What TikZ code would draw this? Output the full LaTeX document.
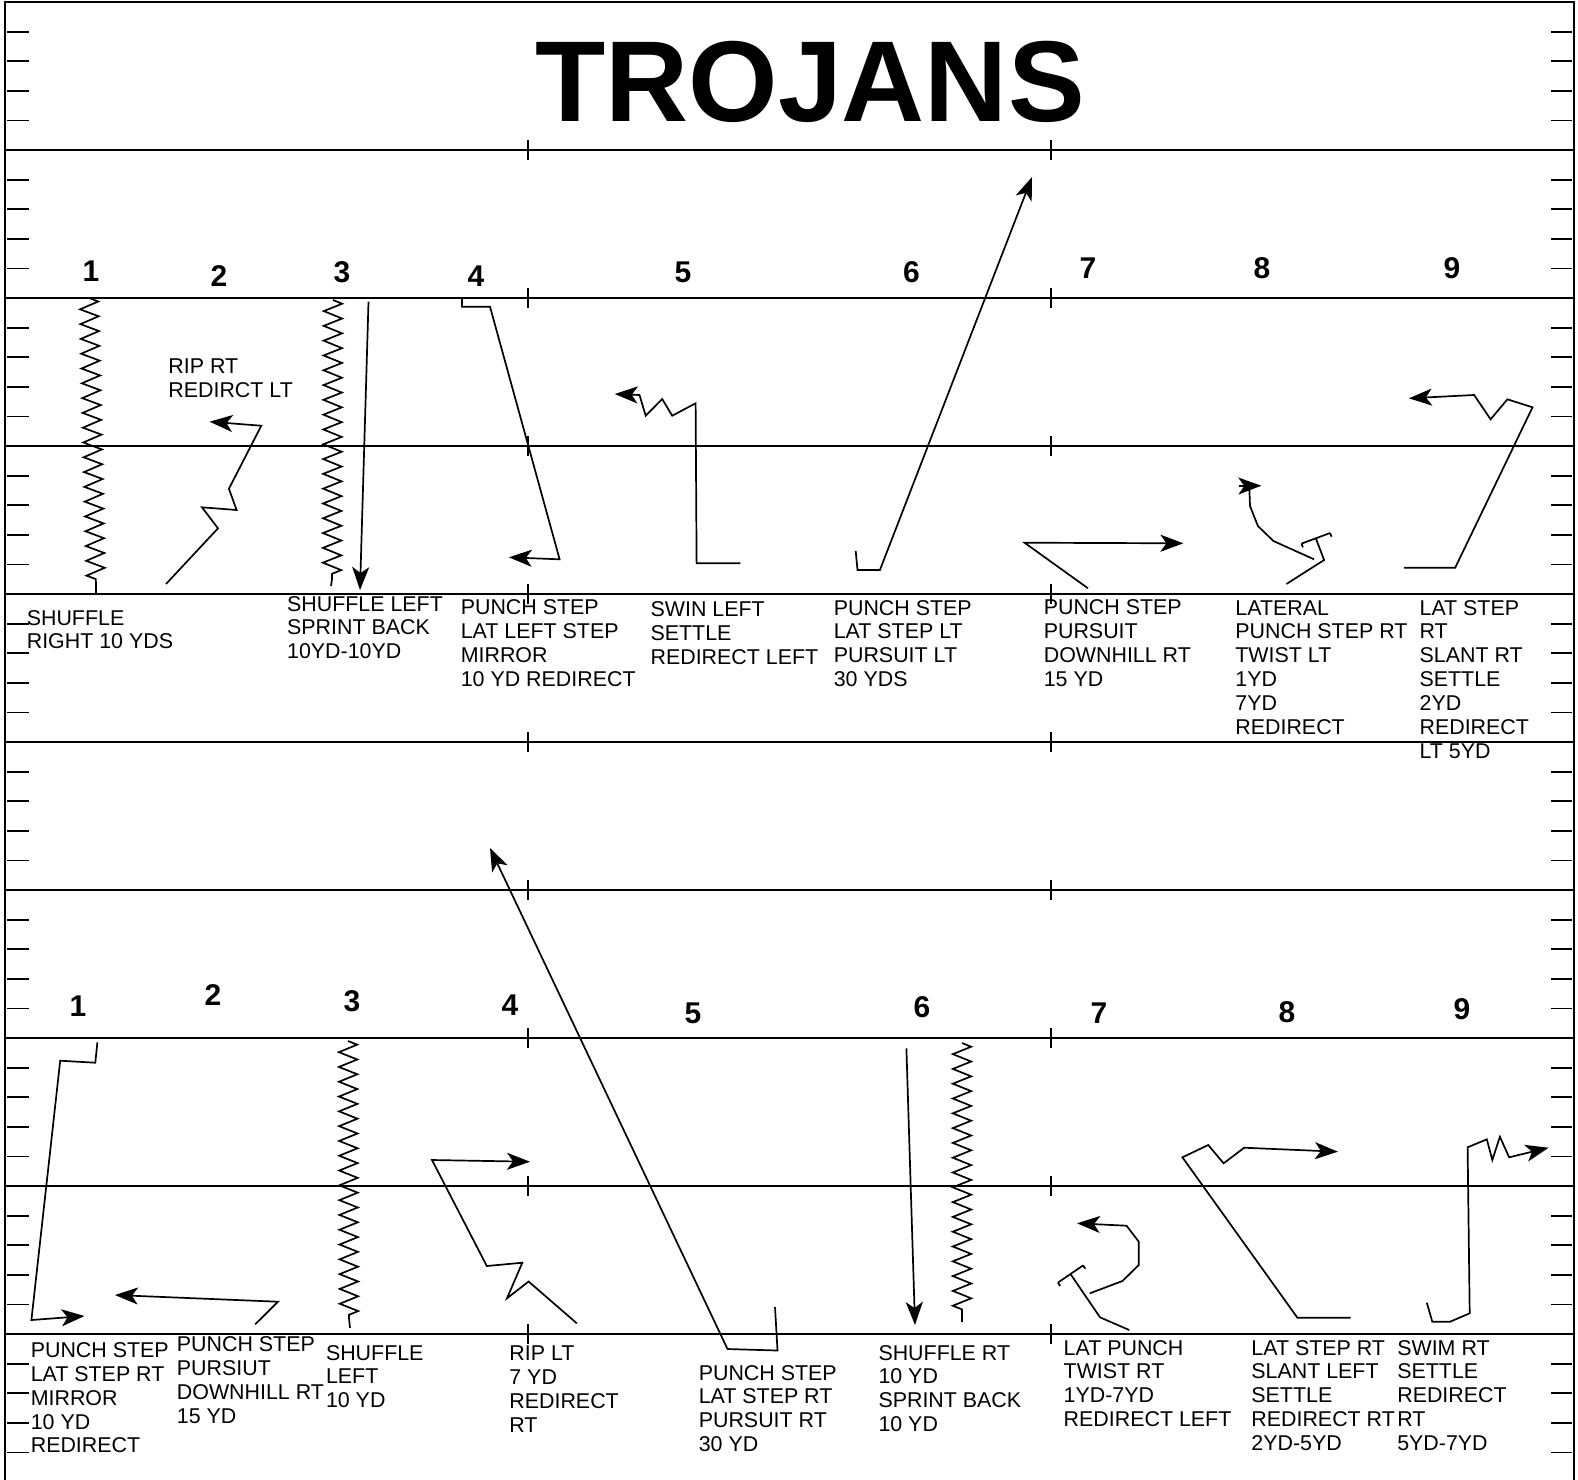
\documentclass[tikz,border=0pt]{standalone}
\usepackage{fontspec}
\setmainfont{Liberation Sans}
\usetikzlibrary{arrows.meta,decorations.pathmorphing}
\newcommand\stk[1]{\vtop{\halign{##\hfil\cr#1\crcr}}}
\tikzset{
  field/.style={line width=1pt},
  tickmark/.style={line width=0.9pt},
  route/.style={line width=0.85pt, line join=miter},
  arr/.style={route, -{Stealth[length=11.5pt,width=8.5pt,inset=3pt]}},
  zz/.style={route, decorate, decoration={zigzag, segment length=7.4pt, amplitude=4.6pt}},
  lbl/.style={anchor=base west, inner sep=0pt, font=\fontsize{10.7pt}{11.95pt}\selectfont},
  num/.style={inner sep=0pt, font=\bfseries\fontsize{15pt}{18pt}\selectfont},
}
\begin{document}
\begin{tikzpicture}[x=0.5pt,y=-0.5pt]
\useasboundingbox (0,0) rectangle (1578,1479);
% field
\draw[field] (5,1484) -- (5,2) -- (1574,2) -- (1574,1484);
\foreach \j in {1,...,9}{
  \pgfmathsetmacro\yy{2+148*\j}
  \draw[field] (5,\yy) -- (1574,\yy);
  \draw[tickmark] (528,\yy-10) -- (528,\yy+10);
  \draw[tickmark] (1051,\yy-10) -- (1051,\yy+10);
}
\foreach \j in {0,...,9}{
  \foreach \m in {1,...,4}{
    \pgfmathsetmacro\yy{2+148*\j+29.6*\m}
    \draw[tickmark] (7,\yy) -- (29,\yy);
    \draw[tickmark] (1551,\yy) -- (1572,\yy);
  }
}
% title
\node[inner sep=0pt, anchor=base, font=\bfseries\fontsize{57.5pt}{60pt}\selectfont] (title) at (810,121) {TROJANS};
% numbers top
\node[num] (t1) at (91,271.5) {1};
\node[num] (t2) at (219,276) {2};
\node[num] (t3) at (342,272) {3};
\node[num] (t4) at (476,276) {4};
\node[num] (t5) at (683,272) {5};
\node[num] (t6) at (911.5,272) {6};
\node[num] (t7) at (1088,268) {7};
\node[num] (t8) at (1262,268) {8};
\node[num] (t9) at (1452,268) {9};
% numbers bottom
\node[num] (b1) at (78,1006) {1};
\node[num] (b2) at (213,995) {2};
\node[num] (b3) at (352,1001) {3};
\node[num] (b4) at (510,1005.5) {4};
\node[num] (b5) at (693,1013) {5};
\node[num] (b6) at (922,1007) {6};
\node[num] (b7) at (1099,1013) {7};
\node[num] (b8) at (1287,1012) {8};
\node[num] (b9) at (1462,1009) {9};
% top labels
\node[lbl] (lt2) at (168,373.3) {\stk{RIP RT\cr REDIRCT LT}};
\node[lbl] (lt1) at (26.4,625) {\stk{SHUFFLE\cr RIGHT 10 YDS}};
\node[lbl] (lt3) at (286.7,611) {\stk{SHUFFLE LEFT\cr SPRINT BACK\cr 10YD-10YD}};
\node[lbl] (lt4) at (460.4,614.3) {\stk{PUNCH STEP\cr LAT LEFT STEP\cr MIRROR\cr 10 YD REDIRECT}};
\node[lbl] (lt5) at (650.2,616.7) {\stk{SWIN LEFT\cr SETTLE\cr REDIRECT LEFT}};
\node[lbl] (lt6) at (833.4,615) {\stk{PUNCH STEP\cr LAT STEP LT\cr PURSUIT LT\cr 30 YDS}};
\node[lbl] (lt7) at (1043.4,614.3) {\stk{PUNCH STEP\cr PURSUIT\cr DOWNHILL RT\cr 15 YD}};
\node[lbl] (lt8) at (1235,615) {\stk{LATERAL\cr PUNCH STEP RT\cr TWIST LT\cr 1YD\cr 7YD\cr REDIRECT}};
\node[lbl] (lt9) at (1419.2,615) {\stk{LAT STEP\cr RT\cr SLANT RT\cr SETTLE\cr 2YD\cr REDIRECT\cr LT 5YD}};
% bottom labels
\node[lbl] (lb1) at (30.4,1357.3) {\stk{PUNCH STEP\cr LAT STEP RT\cr MIRROR\cr 10 YD\cr REDIRECT}};
\node[lbl] (lb2) at (176.5,1351.7) {\stk{PUNCH STEP\cr PURSIUT\cr DOWNHILL RT\cr 15 YD}};
\node[lbl] (lb3) at (325.6,1360) {\stk{SHUFFLE\cr LEFT\cr 10 YD}};
\node[lbl] (lb4) at (509,1360.7) {\stk{RIP LT\cr 7 YD\cr REDIRECT\cr RT}};
\node[lbl] (lb5) at (698.4,1380) {\stk{PUNCH STEP\cr LAT STEP RT\cr PURSUIT RT\cr 30 YD}};
\node[lbl] (lb6) at (878.1,1360) {\stk{SHUFFLE RT\cr 10 YD\cr SPRINT BACK\cr 10 YD}};
\node[lbl] (lb7) at (1063.3,1355) {\stk{LAT PUNCH\cr TWIST RT\cr 1YD-7YD\cr REDIRECT LEFT}};
\node[lbl] (lb8) at (1251,1355) {\stk{LAT STEP RT\cr SLANT LEFT\cr SETTLE\cr REDIRECT RT\cr 2YD-5YD}};
\node[lbl] (lb9) at (1396.9,1355) {\stk{SWIM RT\cr SETTLE\cr REDIRECT\cr RT\cr 5YD-7YD}};
% ---------- top routes
% 1
\draw[zz] (89,298) -- (96,586);
\draw[route] (96,586) -- (96,593);
% 2
\draw[arr] (166,584) -- (218,528.3) -- (202,507.3) -- (236.6,510) -- (228.9,488.7) -- (261.3,425.7) -- (209.6,421.7);
% 3
\draw[zz] (333,300) -- (332,579);
\draw[route] (332,579) -- (331,586);
\draw[arr] (368.5,301.7) -- (360,590);
% 4
\draw[arr] (462,297.7) -- (462,306.7) -- (490,306.7) -- (559.6,559.3) -- (508.8,557.3);
% 5
\draw[arr] (740.4,563.3) -- (696.6,563.3) -- (695.6,403.3) -- (672.2,415.7) -- (662.2,399) -- (645.7,415.7) -- (639.5,395) -- (614.7,394);
% 6
\draw[arr] (855.7,551) -- (857.5,570) -- (879.9,570) -- (1032,177);
% 7
\draw[arr] (1088,588.3) -- (1024.5,542.7) -- (1183.4,543.3);
% 8
\draw[route] (1286.4,584) -- (1324.1,560) -- (1315.8,538.3);
\draw[route] (1301.5,543.6) -- (1330.1,533);
\draw[route] (1301.5,543.6) -- (1302.9,547.4);
\draw[route] (1330.1,533) -- (1331.5,536.7);
\draw[route] (1314,559.3) -- (1273.4,541) -- (1257.9,526) -- (1250,506) -- (1249.3,487.3);
\draw[arr] (1239,486) -- (1261.3,485.7);
% 9
\draw[arr] (1403.8,567.7) -- (1455.2,567.7) -- (1532.5,407.3) -- (1507.4,399.3) -- (1490.6,419.3) -- (1474.1,395) -- (1408.9,398.3);
% ---------- bottom routes
% 1
\draw[arr] (97.4,1042.3) -- (95.3,1062.7) -- (60.2,1060.7) -- (31.4,1320) -- (84.5,1316);
% 2
\draw[arr] (255.2,1324.3) -- (277.9,1301.7) -- (114.9,1295);
% 3
\draw[zz] (348,1041) -- (349,1318);
\draw[route] (349,1318) -- (350,1328);
% 4
\draw[arr] (576.8,1323.3) -- (528.6,1281.5) -- (507,1298.3) -- (522.3,1262.7) -- (486.8,1266) -- (432,1160) -- (530,1161.7);
% 5
\draw[arr] (775,1307) -- (777.5,1350.5) -- (727.5,1349) -- (490,848);
% 6
\draw[arr] (906.4,1048.3) -- (915,1325);
\draw[zz] (962,1043) -- (962,1312);
\draw[route] (962,1312) -- (962,1322);
% 7
\draw[route] (1129.2,1330) -- (1100,1317.3) -- (1070.5,1274);
\draw[route] (1057.9,1282.6) -- (1083.1,1265.4);
\draw[route] (1057.9,1282.6) -- (1060.1,1285.9);
\draw[route] (1083.1,1265.4) -- (1085.3,1268.7);
\draw[arr] (1089.8,1293.3) -- (1122.4,1281) -- (1138.8,1265) -- (1138.8,1241.7) -- (1126.5,1225.7) -- (1077,1223.3);
% 8
\draw[arr] (1350.6,1317.7) -- (1297.4,1317.7) -- (1182.4,1157.3) -- (1208.2,1145) -- (1223.6,1163.3) -- (1244.2,1147.7) -- (1337.9,1151.7);
% 9
\draw[arr] (1426.8,1302.7) -- (1432.3,1321.7) -- (1450.1,1321.7) -- (1469.7,1313.3) -- (1467.6,1147.3) -- (1486.8,1139.3) -- (1492.3,1160) -- (1499.9,1136.7) -- (1509.1,1157.3) -- (1548.6,1147.7);
\end{tikzpicture}
\end{document}
